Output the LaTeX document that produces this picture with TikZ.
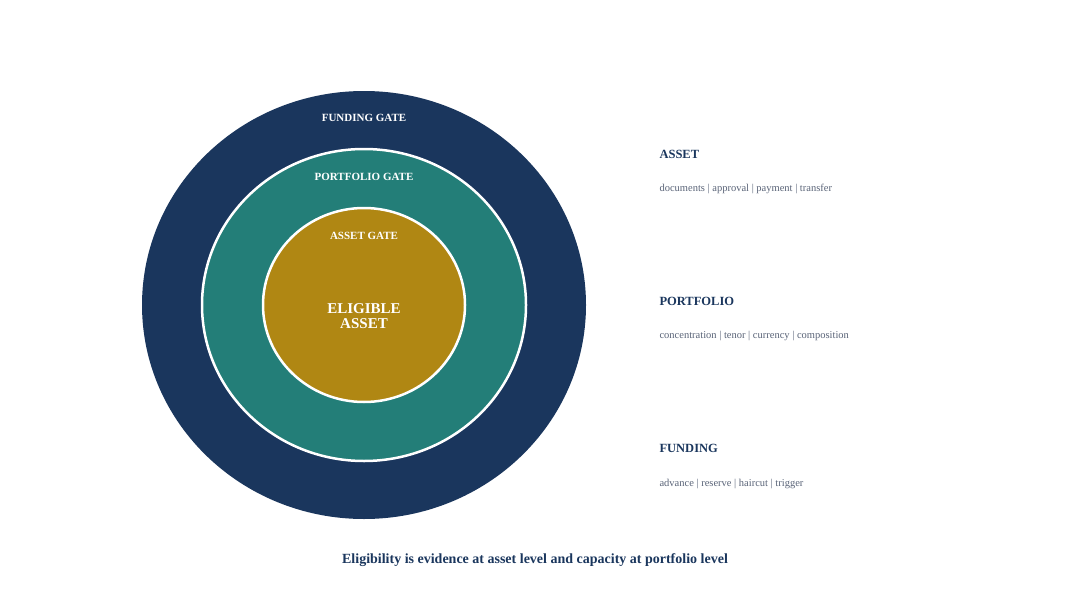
\documentclass[tikz,border=0pt]{standalone}
\usepackage{fontspec}
\usetikzlibrary{shapes.geometric}
\setmainfont{Liberation Serif}
\definecolor{navy}{HTML}{1A365D}
\definecolor{teal2}{HTML}{237E78}
\definecolor{gold}{HTML}{B08713}
\definecolor{greytext}{HTML}{5A6478}
\begin{document}
\begin{tikzpicture}[x=1pt,y=-1pt,
  gate/.style={font=\fontsize{11}{13}\selectfont\bfseries,text=white},
  head/.style={anchor=west,font=\fontsize{12.5}{14}\selectfont\bfseries,text=navy},
  sub/.style={anchor=west,font=\fontsize{10.5}{12}\selectfont,text=greytext}]
\useasboundingbox (0,0) rectangle (1070,610);
\fill[white] (0,0) rectangle (1070,610);
\node[ellipse,fill=navy,minimum width=444pt,minimum height=428pt,inner sep=0pt] (outer) at (364,305) {};
\node[ellipse,fill=teal2,draw=white,line width=2.5pt,minimum width=324pt,minimum height=312pt,inner sep=0pt] (mid) at (364,305) {};
\node[ellipse,fill=gold,draw=white,line width=2.5pt,minimum width=202pt,minimum height=194pt,inner sep=0pt] (inner) at (364,305) {};
\node[gate] (fg) at (364,118) {FUNDING GATE};
\node[gate] (pg) at (364,177) {PORTFOLIO GATE};
\node[gate] (ag) at (364,236) {ASSET GATE};
\node[align=center,text=white,font=\fontsize{15}{15}\selectfont\bfseries] (el) at (364,316) {ELIGIBLE\\ASSET};
\node[head] (h1) at (656,154) {ASSET};
\node[sub] (s1) at (656,189) {documents | approval | payment | transfer};
\node[head] (h2) at (656,301) {PORTFOLIO};
\node[sub] (s2) at (656,336) {concentration | tenor | currency | composition};
\node[head] (h3) at (656,448) {FUNDING};
\node[sub] (s3) at (656,484) {advance | reserve | haircut | trigger};
\node[font=\fontsize{14}{16}\selectfont\bfseries,text=navy] (cap) at (535,560) {Eligibility is evidence at asset level and capacity at portfolio level};
\end{tikzpicture}
\end{document}
